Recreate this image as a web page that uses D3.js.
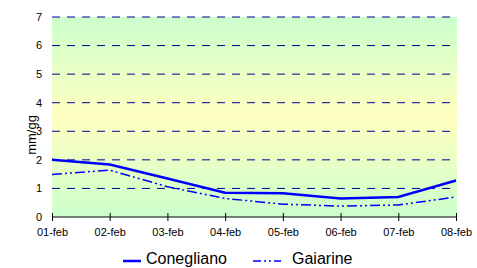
<!DOCTYPE html>
<html>
<head>
<meta charset="utf-8">
<script src="https://cdn.jsdelivr.net/npm/d3@7"></script>
<style>
  body { margin: 0; background: #fff; }
  text { font-family: Arial, "Liberation Sans", sans-serif; }
</style>
</head>
<body>
<div class="chart"></div>
<script>
const days = ['01-feb','02-feb','03-feb','04-feb','05-feb','06-feb','07-feb','08-feb'];
const conegliano = [2.0, 1.84, 1.35, 0.85, 0.83, 0.65, 0.7, 1.28];
const gaiarine = [1.49, 1.64, 1.06, 0.65, 0.45, 0.38, 0.42, 0.7];
const yTicks = [0, 1, 2, 3, 4, 5, 6, 7];

const margin = {top: 17, right: 21, bottom: 51, left: 52};
const width = 477 - margin.left - margin.right,
      height = 268 - margin.top - margin.bottom;

const xScale = d3.scalePoint().domain(days).range([0, width]);
const yScale = d3.scaleLinear().domain([0, 7]).range([height, 0]);

const root = d3.select('.chart').append('svg')
  .attr('width', 477).attr('height', 268);

const defs = root.append('defs');
const grad = defs.append('linearGradient')
  .attr('id', 'bg').attr('x1', 0).attr('y1', 0).attr('x2', 0).attr('y2', 1);
grad.append('stop').attr('offset', '0%').attr('stop-color', '#ccffcc');
grad.append('stop').attr('offset', '50%').attr('stop-color', '#ffffc0');
grad.append('stop').attr('offset', '100%').attr('stop-color', '#ccffcc');

const svg = root.append('g')
  .attr('transform', `translate(${margin.left},${margin.top})`);

svg.append('rect')
  .attr('width', width + 1).attr('height', height)
  .attr('fill', 'url(#bg)');

// gridlines
svg.selectAll('.grid')
  .data(yTicks.filter(d => d > 0))
  .enter().append('line')
  .attr('x1', 0).attr('x2', width)
  .attr('y1', d => yScale(d)).attr('y2', d => yScale(d))
  .attr('stroke', '#000099').attr('stroke-width', 1)
  .attr('stroke-dasharray', '8,7');

// y labels
svg.selectAll('.ylab')
  .data(yTicks)
  .enter().append('text')
  .attr('x', -10).attr('y', d => yScale(d))
  .attr('dy', '0.35em')
  .attr('text-anchor', 'end')
  .attr('font-size', 11)
  .text(d => d);

// x axis
const xAxis = d3.axisBottom(xScale).tickSize(4).tickPadding(7);
const gx = svg.append('g')
  .attr('transform', `translate(0,${height})`)
  .call(xAxis);
gx.select('.domain').attr('d', `M0,0H${width}`).attr('stroke', '#000');
gx.selectAll('.tick line').attr('y1', -4).attr('y2', 4);
gx.selectAll('text').attr('font-size', 11).attr('font-family', 'Arial, "Liberation Sans", sans-serif').attr('fill', '#000');

const line = d3.line()
  .x((d, i) => xScale(days[i]))
  .y(d => yScale(d));

svg.append('path')
  .datum(gaiarine)
  .attr('d', line)
  .attr('fill', 'none')
  .attr('stroke', '#0000ff')
  .attr('stroke-width', 1.5)
  .attr('stroke-dasharray', '10,3,2,3,2,3');

svg.append('path')
  .datum(conegliano)
  .attr('d', line)
  .attr('fill', 'none')
  .attr('stroke', '#0000ff')
  .attr('stroke-width', 2.5);

// y axis title
root.append('text')
  .attr('transform', 'translate(36,135) rotate(-90)')
  .attr('text-anchor', 'middle')
  .attr('font-size', 13)
  .text('mm/gg');

// legend
const legend = root.append('g').attr('transform', 'translate(0,261)');
legend.append('line')
  .attr('x1', 123).attr('x2', 141).attr('y1', 0).attr('y2', 0)
  .attr('stroke', '#0000ff').attr('stroke-width', 2.5);
legend.append('text')
  .attr('x', 146).attr('y', 3)
  .attr('font-size', 16)
  .text('Conegliano');
legend.append('line')
  .attr('x1', 253).attr('x2', 281).attr('y1', 0).attr('y2', 0)
  .attr('stroke', '#0000ff').attr('stroke-width', 1.5)
  .attr('stroke-dasharray', '8,3,2,3,2,3');
legend.append('text')
  .attr('x', 292).attr('y', 3)
  .attr('font-size', 16)
  .text('Gaiarine');
</script>
</body>
</html>
